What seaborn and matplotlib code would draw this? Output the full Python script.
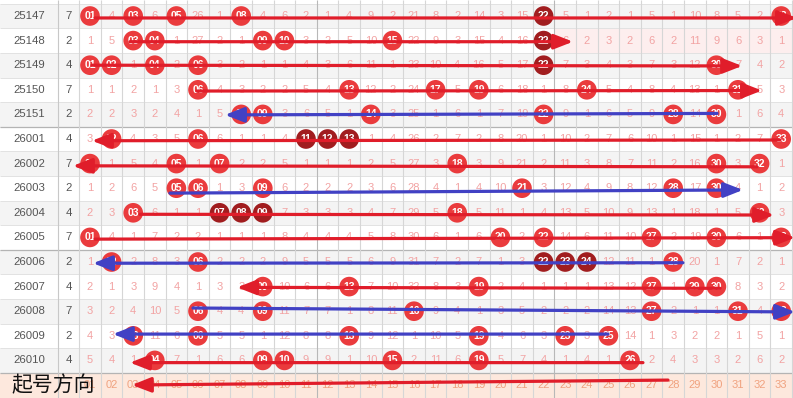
import matplotlib
matplotlib.use("Agg")
import matplotlib.pyplot as plt
from matplotlib.patches import Rectangle
import pandas as pd
import seaborn as sns

# ---------------- data ----------------
issues = ["25147", "25148", "25149", "25150", "25151",
          "26001", "26002", "26003", "26004", "26005",
          "26006", "26007", "26008", "26009", "26010"]
tails = [7, 2, 4, 7, 2, 4, 7, 2, 4, 7, 2, 4, 7, 2, 4]

# omission values per number 01..33 ; 0 = drawn (ball)
r25147 = [0, 4, 0, 6, 0, 26, 1, 0, 4, 6, 2, 1, 4, 9, 2, 21, 8, 2, 14, 3, 15, 0, 5, 1, 2, 1, 5, 1, 10, 8, 5, 2, 0]
r25148 = [1, 5, 0, 0, 1, 27, 2, 1, 0, 0, 3, 2, 5, 10, 0, 22, 9, 3, 15, 4, 16, 0, 6, 2, 3, 2, 6, 2, 11, 9, 6, 3, 1]
r25149 = [0, 0, 1, 0, 2, 0, 3, 2, 1, 1, 4, 3, 6, 11, 1, 23, 10, 4, 16, 5, 17, 0, 7, 3, 4, 3, 7, 3, 12, 0, 7, 4, 2]
r25150 = [1, 1, 2, 1, 3, 0, 4, 3, 2, 2, 5, 4, 0, 12, 2, 24, 0, 5, 0, 6, 18, 1, 8, 0, 5, 4, 8, 4, 13, 1, 0, 5, 3]
r25151 = [2, 2, 3, 2, 4, 1, 5, 0, 0, 3, 6, 5, 1, 0, 3, 25, 1, 6, 1, 7, 19, 0, 9, 1, 6, 5, 9, 0, 14, 0, 1, 6, 4]
r26001 = [3, 0, 4, 3, 5, 0, 6, 1, 1, 4, 0, 0, 0, 1, 4, 26, 2, 7, 2, 8, 20, 1, 10, 2, 7, 6, 10, 1, 15, 1, 2, 7, 0]
r26002 = [0, 1, 5, 4, 0, 1, 0, 2, 2, 5, 1, 1, 1, 2, 5, 27, 3, 0, 3, 9, 21, 2, 11, 3, 8, 7, 11, 2, 16, 0, 3, 0, 1]
r26003 = [1, 2, 6, 5, 0, 0, 1, 3, 0, 6, 2, 2, 2, 3, 6, 28, 4, 1, 4, 10, 0, 3, 12, 4, 9, 8, 12, 0, 17, 0, 4, 1, 2]
r26004 = [2, 3, 0, 6, 1, 1, 0, 0, 0, 7, 3, 3, 3, 4, 7, 29, 5, 0, 5, 11, 1, 4, 13, 5, 10, 9, 13, 1, 18, 1, 5, 0, 3]
r26005 = [0, 4, 1, 7, 2, 2, 1, 1, 1, 8, 4, 4, 4, 5, 8, 30, 6, 1, 6, 0, 2, 0, 14, 6, 11, 10, 0, 2, 19, 0, 6, 1, 0]
r26006 = [1, 0, 2, 8, 3, 0, 2, 2, 2, 9, 5, 5, 5, 6, 9, 31, 7, 2, 7, 1, 3, 0, 0, 0, 12, 11, 1, 0, 20, 1, 7, 2, 1]
r26007 = [2, 1, 3, 9, 4, 1, 3, 3, 0, 10, 6, 6, 0, 7, 10, 32, 8, 3, 0, 2, 4, 1, 1, 1, 13, 12, 0, 1, 0, 0, 8, 3, 2]
r26008 = [3, 2, 4, 10, 5, 0, 4, 4, 0, 11, 7, 7, 1, 8, 11, 0, 9, 4, 1, 3, 5, 2, 2, 2, 14, 13, 0, 2, 1, 1, 0, 4, 0]
r26009 = [4, 3, 0, 11, 6, 0, 5, 5, 1, 12, 8, 8, 0, 9, 12, 1, 10, 5, 0, 4, 6, 3, 0, 3, 0, 14, 1, 3, 2, 2, 1, 5, 1]
r26010 = [5, 4, 1, 0, 7, 1, 6, 6, 0, 0, 9, 9, 1, 10, 0, 2, 11, 6, 0, 5, 7, 4, 1, 4, 1, 0, 2, 4, 3, 3, 2, 6, 2]
rows = [r25147, r25148, r25149, r25150, r25151, r26001, r26002, r26003,
        r26004, r26005, r26006, r26007, r26008, r26009, r26010]

# balls shown dark (repeat / consecutive groups): (row index, number)
dark_balls = [(0, 22), (1, 22), (2, 22), (5, 11), (5, 12), (5, 13),
              (8, 7), (8, 8), (8, 9), (10, 22), (10, 23), (10, 24)]

footer_numbers = [f"{n:02d}" for n in range(1, 34)]
footer_label = "起号方向"

# arrows (column units / row units): start -> tip
arrow_x0 = [1.23, 2.85, 1.09, 5.95, 30.03, 32.94, 31.88, 4.70, 3.31, 1.23, 28.45, 30.17, 5.77, 24.98, 26.60, 27.76]
arrow_x1 = [33.73, 23.36, 31.19, 32.11, 7.25, 1.09, 0.21, 31.23, 32.67, 33.64, 1.14, 7.81, 33.64, 2.06, 2.85, 2.94]
arrow_y0 = [0.08, 1.045, 2.0, 3.05, 3.96, 5.04, 6.13, 7.20, 8.06, 9.07, 10.03, 11.07, 11.87, 12.93, 14.09, 14.80]
arrow_y1 = [0.08, 1.045, 2.03, 3.03, 4.02, 5.07, 6.09, 7.07, 8.09, 9.01, 10.05, 11.03, 12.03, 12.93, 14.09, 15.00]
arrow_kind = ["red", "red", "red", "red", "blue", "red", "red", "blue",
              "red", "red", "blue", "red", "blue", "blue", "red", "red"]

# ---------------- styling ----------------
sns.set_theme(style="white")
plt.rcParams["font.family"] = ["Liberation Sans", "DejaVu Sans"]

BALL_RED = "#ea3b3d"
BALL_DARK = "#a11d1f"
OMIT = "#f2a3a3"
ARROW = {"red": "#e01d2a", "blue": "#4141c4"}

X0, X1 = -3.1667, 33.546
Y0, Y1 = -0.6504, 15.528

fig = plt.figure(figsize=(7.93, 3.98), dpi=100)
ax = fig.add_axes([0, 0, 1, 1])

# row backgrounds
for i in range(len(issues)):
    ax.add_patch(Rectangle((X0, i - 0.5), X1 - X0, 1,
                           color="#f4f4f4" if i % 2 == 0 else "white", zorder=0, lw=0))
ax.add_patch(Rectangle((22.5, 0.5), X1 - 22.5, 1, color="#fdeeee", zorder=0, lw=0))
ax.add_patch(Rectangle((X0, 14.5), X1 - X0, 2, color="#fde8dd", zorder=0, lw=0))

# grid
for i in range(len(issues) + 1):
    ax.hlines(i - 0.5, X0, X1, color="#e2e2e2", lw=0.7, zorder=1)
for yb in (4.5, 9.5, 14.5):
    ax.hlines(yb, X0, X1, color="#b4b4b4", lw=0.9, zorder=1)
for k in range(34):
    xb = k + 0.5
    c = "#b8b8b8" if k in (11, 22) else "#d6d6d6"
    ax.vlines(xb, Y0, Y1, color=c, lw=0.8, zorder=1)
ax.vlines(-0.481, Y0, Y1, color="#c8c8c8", lw=0.8, zorder=1)

# left columns
for i, (iss, t) in enumerate(zip(issues, tails)):
    ax.text(-1.80, i, iss, ha="center", va="center", fontsize=8.2, color="#555555", zorder=2)
    ax.text(0.03, i, str(t), ha="center", va="center", fontsize=8.2, color="#555555", zorder=2)

# omission numbers
for i, vals in enumerate(rows):
    for k, v in enumerate(vals, start=1):
        if v > 0:
            ax.text(k, i, str(v), ha="center", va="center", fontsize=8, color=OMIT, zorder=2)

# balls via seaborn
dark_set = set(dark_balls)
recs = []
for i, vals in enumerate(rows):
    for k, v in enumerate(vals, start=1):
        if v == 0:
            recs.append({"num": k, "row": i,
                         "kind": "dark" if (i, k) in dark_set else "red"})
balls = pd.DataFrame(recs)
sns.scatterplot(data=balls, x="num", y="row", hue="kind",
                palette={"red": BALL_RED, "dark": BALL_DARK},
                s=200, edgecolor="none", linewidth=0, legend=False, ax=ax, zorder=3)
for _, r in balls.iterrows():
    ax.text(r["num"], r["row"], f"{r['num']:02d}", ha="center", va="center",
            fontsize=7.5, fontweight="bold", color="white", zorder=4)

# footer row
for k, lab in enumerate(footer_numbers, start=1):
    ax.text(k, 15, lab, ha="center", va="center", fontsize=8, color="#f0a27f", zorder=2)
ax.text(-2.62, 15.0, footer_label, ha="left", va="center", fontsize=15,
        color="#111111", family=["Noto Sans CJK SC", "DejaVu Sans"], zorder=6)

# arrows
for x0, x1, y0, y1, kd in zip(arrow_x0, arrow_x1, arrow_y0, arrow_y1, arrow_kind):
    ax.annotate("", xy=(x1, y1), xytext=(x0, y0),
                arrowprops=dict(arrowstyle="-|>,head_length=1.15,head_width=0.45",
                                mutation_scale=10, lw=2.3, color=ARROW[kd],
                                shrinkA=0, shrinkB=0),
                zorder=5, annotation_clip=False)

ax.set_xlim(X0, X1)
ax.set_ylim(Y1, Y0)
ax.axis("off")
fig.savefig("out.png", dpi=100)
